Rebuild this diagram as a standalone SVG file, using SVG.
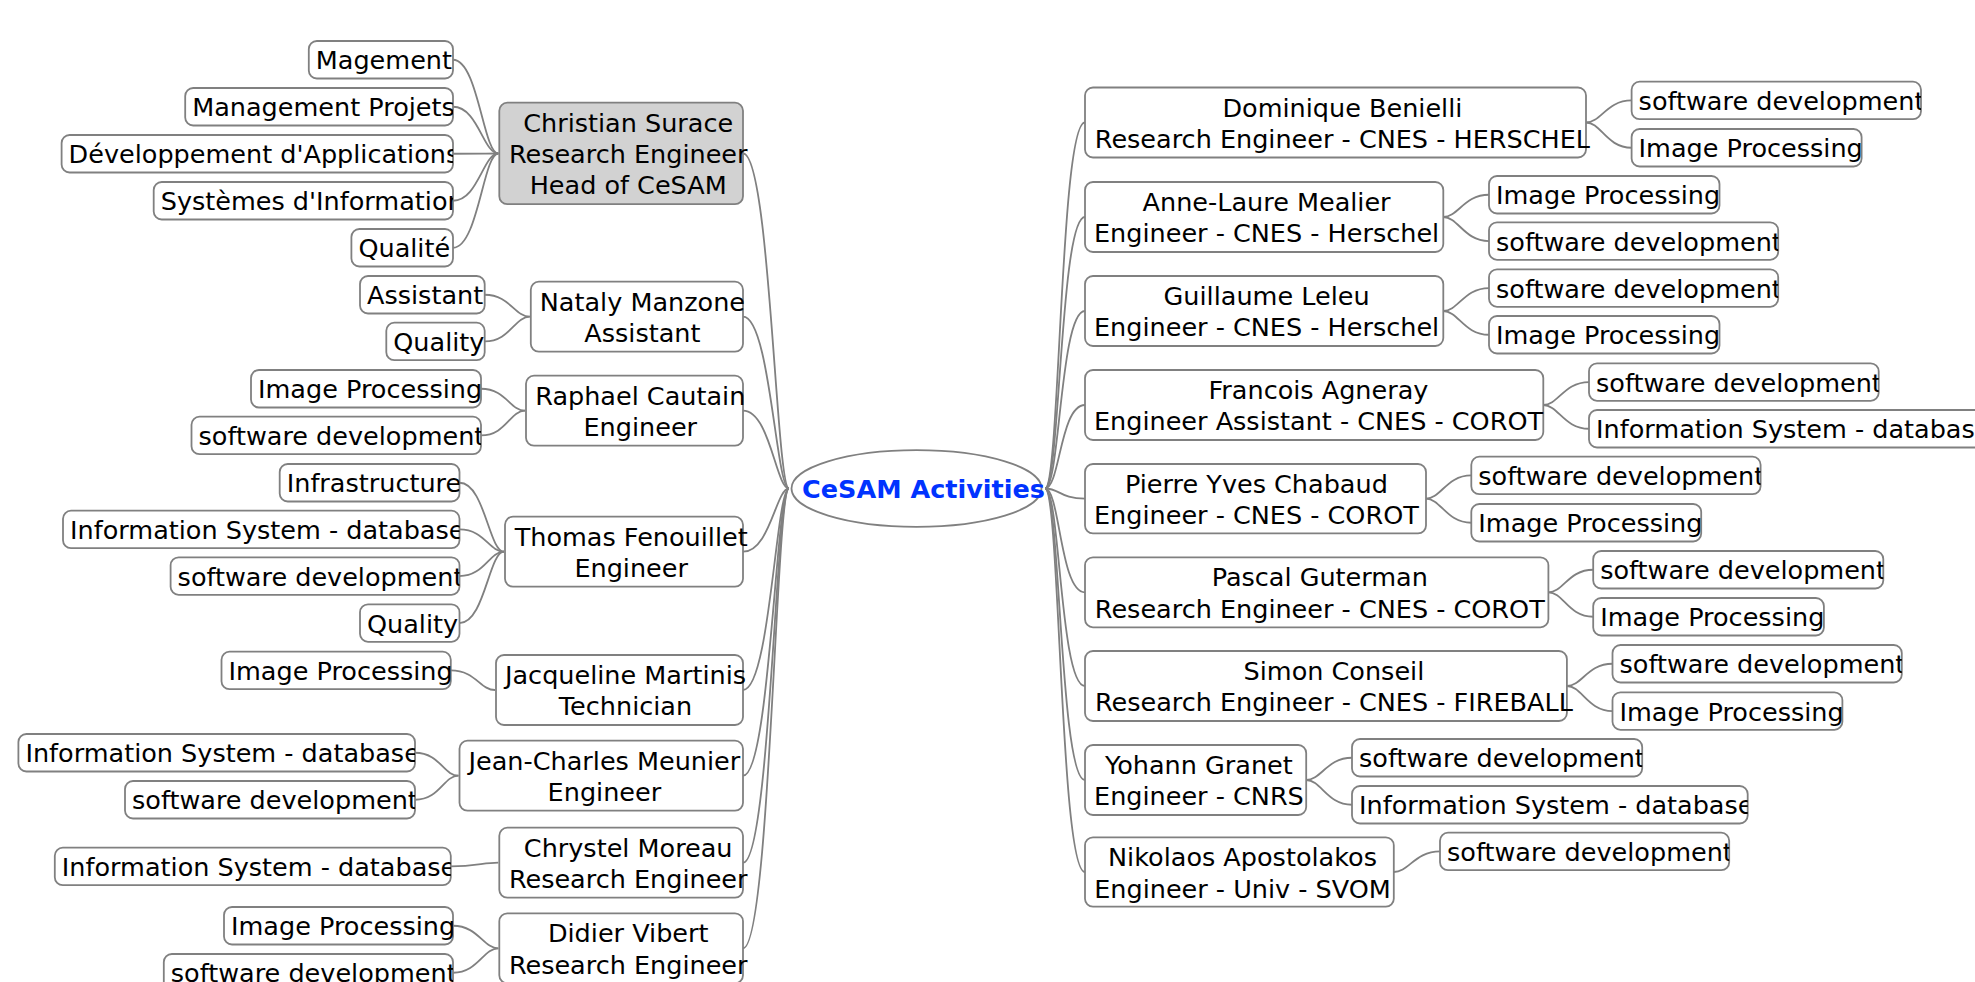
<svg xmlns="http://www.w3.org/2000/svg" width="1975" height="982" viewBox="0 0 1975 982">
  <style>
    text { font-family: "DejaVu Sans", "Liberation Sans", sans-serif; font-size: 25.5px; fill: #000; }
    .mid { text-anchor: middle; }
    .root-label { font-weight: bold; fill: #0033ff; text-anchor: middle; }
    .box { fill: #fff; stroke: #808080; stroke-width: 1.8; }
    .head { fill: #d2d2d2; }
    .edges path { fill: none; stroke: #808080; stroke-width: 1.8; }
  </style>

  <rect width="1975" height="982" fill="#fff"/>

  <!-- connectors -->
  <g class="edges">
    <!-- root to left branch -->
    <path d="M789 488.5 C776 488.5 770 153.5 743 153.5"/>
    <path d="M789 488.5 C776 488.5 770 316.7 743 316.7"/>
    <path d="M789 488.5 C776 488.5 770 410.7 743 410.7"/>
    <path d="M789 488.5 C776 488.5 770 551.7 743 551.7"/>
    <path d="M789 488.5 C776 488.5 770 690 743 690"/>
    <path d="M789 488.5 C776 488.5 770 775.7 743 775.7"/>
    <path d="M789 488.5 C776 488.5 770 862.7 743 862.7"/>
    <path d="M789 488.5 C776 488.5 770 948.3 743 948.3"/>
    <!-- root to right branch -->
    <path d="M1045 488.5 C1060 488.5 1060 122.5 1085 122.5"/>
    <path d="M1045 488.5 C1060 488.5 1060 217 1085 217"/>
    <path d="M1045 488.5 C1060 488.5 1060 311 1085 311"/>
    <path d="M1045 488.5 C1060 488.5 1060 405 1085 405"/>
    <path d="M1045 488.5 C1060 488.5 1060 498.7 1085 498.7"/>
    <path d="M1045 488.5 C1060 488.5 1060 592.3 1085 592.3"/>
    <path d="M1045 488.5 C1060 488.5 1060 686 1085 686"/>
    <path d="M1045 488.5 C1060 488.5 1060 780 1085 780"/>
    <path d="M1045 488.5 C1060 488.5 1060 872 1085 872"/>

    <!-- Christian Surace topics -->
    <path d="M498.3 153.5 C483.3 153.5 478 59.75 453 59.75"/>
    <path d="M498.3 153.5 C483.3 153.5 478 106.75 453 106.75"/>
    <path d="M498.3 153.5 C483.3 153.5 478 153.75 453 153.75"/>
    <path d="M498.3 153.5 C483.3 153.5 478 200.75 453 200.75"/>
    <path d="M498.3 153.5 C483.3 153.5 478 247.75 453 247.75"/>
    <!-- Nataly Manzone topics -->
    <path d="M529.8 316.7 C514.8 316.7 509.7 294.75 484.7 294.75"/>
    <path d="M529.8 316.7 C514.8 316.7 509.7 341.45 484.7 341.45"/>
    <!-- Raphael Cautain topics -->
    <path d="M525 410.7 C510 410.7 506 388.75 481 388.75"/>
    <path d="M525 410.7 C510 410.7 506 435.45 481 435.45"/>
    <!-- Thomas Fenouillet topics -->
    <path d="M504 551.7 C489 551.7 484.5 482.75 459.5 482.75"/>
    <path d="M504 551.7 C489 551.7 484.5 529.45 459.5 529.45"/>
    <path d="M504 551.7 C489 551.7 484.5 576.05 459.5 576.05"/>
    <path d="M504 551.7 C489 551.7 484.5 623.05 459.5 623.05"/>
    <!-- Jacqueline Martinis topic -->
    <path d="M495 690 C480 690 475.8 670.45 450.8 670.45"/>
    <!-- Jean-Charles Meunier topics -->
    <path d="M458.5 775.7 C443.5 775.7 440 752.75 415 752.75"/>
    <path d="M458.5 775.7 C443.5 775.7 440 799.75 415 799.75"/>
    <!-- Chrystel Moreau topic -->
    <path d="M498.3 862.7 C483.3 862.7 475.8 866.45 450.8 866.45"/>
    <!-- Didier Vibert topics -->
    <path d="M498.3 948.3 C483.3 948.3 478 925.75 453 925.75"/>
    <path d="M498.3 948.3 C483.3 948.3 478 972.75 453 972.75"/>

    <!-- right branch topics -->
    <path d="M1586 122.5 C1601 122.5 1606.6 100.45 1631.6 100.45"/>
    <path d="M1586 122.5 C1601 122.5 1606.6 147.75 1631.6 147.75"/>
    <path d="M1443.3 217 C1458.3 217 1464 194.75 1489 194.75"/>
    <path d="M1443.3 217 C1458.3 217 1464 241.05 1489 241.05"/>
    <path d="M1443.3 311 C1458.3 311 1464 288.05 1489 288.05"/>
    <path d="M1443.3 311 C1458.3 311 1464 334.75 1489 334.75"/>
    <path d="M1543.3 405 C1558.3 405 1564 382.05 1589 382.05"/>
    <path d="M1543.3 405 C1558.3 405 1564 428.75 1589 428.75"/>
    <path d="M1426 498.7 C1441 498.7 1446.3 475.45 1471.3 475.45"/>
    <path d="M1426 498.7 C1441 498.7 1446.3 522.75 1471.3 522.75"/>
    <path d="M1548.4 592.3 C1563.4 592.3 1568.2 569.75 1593.2 569.75"/>
    <path d="M1548.4 592.3 C1563.4 592.3 1568.2 616.75 1593.2 616.75"/>
    <path d="M1566.9 686 C1581.9 686 1587.5 663.75 1612.5 663.75"/>
    <path d="M1566.9 686 C1581.9 686 1587.5 711.05 1612.5 711.05"/>
    <path d="M1306.2 780 C1321.2 780 1327 757.75 1352 757.75"/>
    <path d="M1306.2 780 C1321.2 780 1327 804.75 1352 804.75"/>
    <path d="M1393.8 872 C1408.8 872 1415 851.45 1440 851.45"/>
  </g>

  <!-- central topic -->
  <g id="root">
    <ellipse cx="916.5" cy="488.5" rx="125" ry="38.3" class="box"/>
    <text class="root-label" x="923.5" y="498">CeSAM Activities</text>
  </g>

  <!-- left branch people -->
  <g id="christian-surace">
    <rect class="box head" x="499.3" y="102.7" width="243.7" height="101.5" rx="8"/>
    <text class="mid" x="628.2" y="131.7">Christian Surace</text>
    <text class="mid" x="628.2" y="163">Research Engineer</text>
    <text class="mid" x="628.2" y="194.3">Head of CeSAM</text>
  </g>
  <g id="nataly-manzone">
    <rect class="box" x="530.8" y="281.7" width="212.2" height="70" rx="8"/>
    <text class="mid" x="642.4" y="310.7">Nataly Manzone</text>
    <text class="mid" x="642.4" y="342">Assistant</text>
  </g>
  <g id="raphael-cautain">
    <rect class="box" x="526" y="375.7" width="217" height="70" rx="8"/>
    <text class="mid" x="640.3" y="404.7">Raphael Cautain</text>
    <text class="mid" x="640.3" y="436">Engineer</text>
  </g>
  <g id="thomas-fenouillet">
    <rect class="box" x="505" y="516.7" width="238" height="70" rx="8"/>
    <text class="mid" x="631.2" y="545.7">Thomas Fenouillet</text>
    <text class="mid" x="631.2" y="577">Engineer</text>
  </g>
  <g id="jacqueline-martinis">
    <rect class="box" x="496" y="655" width="247" height="70" rx="8"/>
    <text class="mid" x="625.5" y="684">Jacqueline Martinis</text>
    <text class="mid" x="625.5" y="715.3">Technician</text>
  </g>
  <g id="jean-charles-meunier">
    <rect class="box" x="459.5" y="740.7" width="283.5" height="70" rx="8"/>
    <text class="mid" x="604.4" y="769.7">Jean-Charles Meunier</text>
    <text class="mid" x="604.4" y="801">Engineer</text>
  </g>
  <g id="chrystel-moreau">
    <rect class="box" x="499.3" y="827.7" width="243.7" height="70" rx="8"/>
    <text class="mid" x="628.2" y="856.7">Chrystel Moreau</text>
    <text class="mid" x="628.2" y="888">Research Engineer</text>
  </g>
  <g id="didier-vibert">
    <rect class="box" x="499.3" y="913.3" width="243.7" height="70" rx="8"/>
    <text class="mid" x="628.2" y="942.3">Didier Vibert</text>
    <text class="mid" x="628.2" y="973.6">Research Engineer</text>
  </g>

  <!-- right branch people -->
  <g id="dominique-benielli">
    <rect class="box" x="1085" y="87.5" width="501" height="70" rx="8"/>
    <text class="mid" x="1342.4" y="116.5">Dominique Benielli</text>
    <text class="mid" x="1342.4" y="147.8">Research Engineer - CNES - HERSCHEL</text>
  </g>
  <g id="anne-laure-mealier">
    <rect class="box" x="1085" y="182" width="358.3" height="70" rx="8"/>
    <text class="mid" x="1266.6" y="211">Anne-Laure Mealier</text>
    <text class="mid" x="1266.6" y="242.3">Engineer - CNES - Herschel</text>
  </g>
  <g id="guillaume-leleu">
    <rect class="box" x="1085" y="276" width="358.3" height="70" rx="8"/>
    <text class="mid" x="1266.6" y="305">Guillaume Leleu</text>
    <text class="mid" x="1266.6" y="336.3">Engineer - CNES - Herschel</text>
  </g>
  <g id="francois-agneray">
    <rect class="box" x="1085" y="370" width="458.3" height="70" rx="8"/>
    <text class="mid" x="1318.5" y="399">Francois Agneray</text>
    <text class="mid" x="1318.5" y="430.3">Engineer Assistant - CNES - COROT</text>
  </g>
  <g id="pierre-yves-chabaud">
    <rect class="box" x="1085" y="464" width="341" height="69.4" rx="8"/>
    <text class="mid" x="1256.4" y="493">Pierre Yves Chabaud</text>
    <text class="mid" x="1256.4" y="524.3">Engineer - CNES - COROT</text>
  </g>
  <g id="pascal-guterman">
    <rect class="box" x="1085" y="557.3" width="463.4" height="70" rx="8"/>
    <text class="mid" x="1319.8" y="586.3">Pascal Guterman</text>
    <text class="mid" x="1319.8" y="617.6">Research Engineer - CNES - COROT</text>
  </g>
  <g id="simon-conseil">
    <rect class="box" x="1085" y="651" width="481.9" height="70" rx="8"/>
    <text class="mid" x="1333.9" y="680">Simon Conseil</text>
    <text class="mid" x="1333.9" y="711.3">Research Engineer - CNES - FIREBALL</text>
  </g>
  <g id="yohann-granet">
    <rect class="box" x="1085" y="745" width="221.2" height="70" rx="8"/>
    <text class="mid" x="1198.9" y="774">Yohann Granet</text>
    <text class="mid" x="1198.9" y="805.3">Engineer - CNRS</text>
  </g>
  <g id="nikolaos-apostolakos">
    <rect class="box" x="1085" y="837.3" width="308.8" height="69.4" rx="8"/>
    <text class="mid" x="1242.5" y="866.3">Nikolaos Apostolakos</text>
    <text class="mid" x="1242.5" y="897.6">Engineer - Univ - SVOM</text>
  </g>

  <!-- left branch topics (text clipped to its box) -->
  <g id="cs-magement">
    <rect class="box" x="308.8" y="41" width="144.2" height="37.5" rx="8"/>
    <svg x="308.8" y="41" width="144.2" height="37.5"><text x="7" y="28.3">Magement</text></svg>
  </g>
  <g id="cs-management-projets">
    <rect class="box" x="185.2" y="88" width="267.8" height="37.5" rx="8"/>
    <svg x="185.2" y="88" width="267.8" height="37.5"><text x="7" y="28.3">Management Projets</text></svg>
  </g>
  <g id="cs-developpement">
    <rect class="box" x="61.6" y="135" width="391.4" height="37.5" rx="8"/>
    <svg x="61.6" y="135" width="391.4" height="37.5"><text x="7" y="28.3">Développement d'Applications</text></svg>
  </g>
  <g id="cs-systemes">
    <rect class="box" x="153.7" y="182" width="299.3" height="37.5" rx="8"/>
    <svg x="153.7" y="182" width="299.3" height="37.5"><text x="7" y="28.3">Systèmes d'Information</text></svg>
  </g>
  <g id="cs-qualite">
    <rect class="box" x="351.4" y="229" width="101.6" height="37.5" rx="8"/>
    <svg x="351.4" y="229" width="101.6" height="37.5"><text x="7" y="28.3">Qualité</text></svg>
  </g>

  <g id="nm-assistant">
    <rect class="box" x="360" y="276" width="124.7" height="37.5" rx="8"/>
    <svg x="360" y="276" width="124.7" height="37.5"><text x="7" y="28.3">Assistant</text></svg>
  </g>
  <g id="nm-quality">
    <rect class="box" x="386.3" y="322.7" width="98.4" height="37.5" rx="8"/>
    <svg x="386.3" y="322.7" width="98.4" height="37.5"><text x="7" y="28.3">Quality</text></svg>
  </g>

  <g id="rc-image">
    <rect class="box" x="251" y="370" width="230" height="37.5" rx="8"/>
    <svg x="251" y="370" width="230" height="37.5"><text x="7" y="28.3">Image Processing</text></svg>
  </g>
  <g id="rc-software">
    <rect class="box" x="191.5" y="416.7" width="289.5" height="37.5" rx="8"/>
    <svg x="191.5" y="416.7" width="289.5" height="37.5"><text x="7" y="28.3">software development</text></svg>
  </g>

  <g id="tf-infrastructure">
    <rect class="box" x="279.7" y="464" width="179.8" height="37.5" rx="8"/>
    <svg x="279.7" y="464" width="179.8" height="37.5"><text x="7" y="28.3">Infrastructure</text></svg>
  </g>
  <g id="tf-database">
    <rect class="box" x="63" y="510.7" width="396.5" height="37.5" rx="8"/>
    <svg x="63" y="510.7" width="396.5" height="37.5"><text x="7" y="28.3">Information System - database</text></svg>
  </g>
  <g id="tf-software">
    <rect class="box" x="170.6" y="557.3" width="288.9" height="37.5" rx="8"/>
    <svg x="170.6" y="557.3" width="288.9" height="37.5"><text x="7" y="28.3">software development</text></svg>
  </g>
  <g id="tf-quality">
    <rect class="box" x="360" y="604.3" width="99.5" height="37.5" rx="8"/>
    <svg x="360" y="604.3" width="99.5" height="37.5"><text x="7" y="28.3">Quality</text></svg>
  </g>

  <g id="jm-image">
    <rect class="box" x="221.5" y="651.7" width="229.3" height="37.5" rx="8"/>
    <svg x="221.5" y="651.7" width="229.3" height="37.5"><text x="7" y="28.3">Image Processing</text></svg>
  </g>

  <g id="jcm-database">
    <rect class="box" x="18.4" y="734" width="396.6" height="37.5" rx="8"/>
    <svg x="18.4" y="734" width="396.6" height="37.5"><text x="7" y="28.3">Information System - database</text></svg>
  </g>
  <g id="jcm-software">
    <rect class="box" x="125" y="781" width="290" height="37.5" rx="8"/>
    <svg x="125" y="781" width="290" height="37.5"><text x="7" y="28.3">software development</text></svg>
  </g>

  <g id="cm-database">
    <rect class="box" x="54.8" y="847.7" width="396" height="37.5" rx="8"/>
    <svg x="54.8" y="847.7" width="396" height="37.5"><text x="7" y="28.3">Information System - database</text></svg>
  </g>

  <g id="dv-image">
    <rect class="box" x="224" y="907" width="229" height="37.5" rx="8"/>
    <svg x="224" y="907" width="229" height="37.5"><text x="7" y="28.3">Image Processing</text></svg>
  </g>
  <g id="dv-software">
    <rect class="box" x="163.8" y="954" width="289.2" height="37.5" rx="8"/>
    <svg x="163.8" y="954" width="289.2" height="37.5"><text x="7" y="28.3">software development</text></svg>
  </g>

  <!-- right branch topics -->
  <g id="db-software">
    <rect class="box" x="1631.6" y="81.7" width="289.4" height="37.5" rx="8"/>
    <svg x="1631.6" y="81.7" width="289.4" height="37.5"><text x="7" y="28.3">software development</text></svg>
  </g>
  <g id="db-image">
    <rect class="box" x="1631.6" y="129" width="230" height="37.5" rx="8"/>
    <svg x="1631.6" y="129" width="230" height="37.5"><text x="7" y="28.3">Image Processing</text></svg>
  </g>

  <g id="alm-image">
    <rect class="box" x="1489" y="176" width="230.5" height="37.5" rx="8"/>
    <svg x="1489" y="176" width="230.5" height="37.5"><text x="7" y="28.3">Image Processing</text></svg>
  </g>
  <g id="alm-software">
    <rect class="box" x="1489" y="222.3" width="289.2" height="37.5" rx="8"/>
    <svg x="1489" y="222.3" width="289.2" height="37.5"><text x="7" y="28.3">software development</text></svg>
  </g>

  <g id="gl-software">
    <rect class="box" x="1489" y="269.3" width="289.2" height="37.5" rx="8"/>
    <svg x="1489" y="269.3" width="289.2" height="37.5"><text x="7" y="28.3">software development</text></svg>
  </g>
  <g id="gl-image">
    <rect class="box" x="1489" y="316" width="230.5" height="37.5" rx="8"/>
    <svg x="1489" y="316" width="230.5" height="37.5"><text x="7" y="28.3">Image Processing</text></svg>
  </g>

  <g id="fa-software">
    <rect class="box" x="1589" y="363.3" width="289.7" height="37.5" rx="8"/>
    <svg x="1589" y="363.3" width="289.7" height="37.5"><text x="7" y="28.3">software development</text></svg>
  </g>
  <g id="fa-database">
    <rect class="box" x="1589" y="410" width="396.4" height="37.5" rx="8"/>
    <svg x="1589" y="410" width="396.4" height="37.5"><text x="7" y="28.3">Information System - database</text></svg>
  </g>

  <g id="pyc-software">
    <rect class="box" x="1471.3" y="456.7" width="289.3" height="37.5" rx="8"/>
    <svg x="1471.3" y="456.7" width="289.3" height="37.5"><text x="7" y="28.3">software development</text></svg>
  </g>
  <g id="pyc-image">
    <rect class="box" x="1471.3" y="504" width="229.9" height="37.5" rx="8"/>
    <svg x="1471.3" y="504" width="229.9" height="37.5"><text x="7" y="28.3">Image Processing</text></svg>
  </g>

  <g id="pg-software">
    <rect class="box" x="1593.2" y="551" width="290.1" height="37.5" rx="8"/>
    <svg x="1593.2" y="551" width="290.1" height="37.5"><text x="7" y="28.3">software development</text></svg>
  </g>
  <g id="pg-image">
    <rect class="box" x="1593.2" y="598" width="230.7" height="37.5" rx="8"/>
    <svg x="1593.2" y="598" width="230.7" height="37.5"><text x="7" y="28.3">Image Processing</text></svg>
  </g>

  <g id="sc-software">
    <rect class="box" x="1612.5" y="645" width="289.3" height="37.5" rx="8"/>
    <svg x="1612.5" y="645" width="289.3" height="37.5"><text x="7" y="28.3">software development</text></svg>
  </g>
  <g id="sc-image">
    <rect class="box" x="1612.5" y="692.3" width="229.9" height="37.5" rx="8"/>
    <svg x="1612.5" y="692.3" width="229.9" height="37.5"><text x="7" y="28.3">Image Processing</text></svg>
  </g>

  <g id="yg-software">
    <rect class="box" x="1352" y="739" width="290.2" height="37.5" rx="8"/>
    <svg x="1352" y="739" width="290.2" height="37.5"><text x="7" y="28.3">software development</text></svg>
  </g>
  <g id="yg-database">
    <rect class="box" x="1352" y="786" width="395.7" height="37.5" rx="8"/>
    <svg x="1352" y="786" width="395.7" height="37.5"><text x="7" y="28.3">Information System - database</text></svg>
  </g>

  <g id="na-software">
    <rect class="box" x="1440" y="832.7" width="289.2" height="37.5" rx="8"/>
    <svg x="1440" y="832.7" width="289.2" height="37.5"><text x="7" y="28.3">software development</text></svg>
  </g>
</svg>
